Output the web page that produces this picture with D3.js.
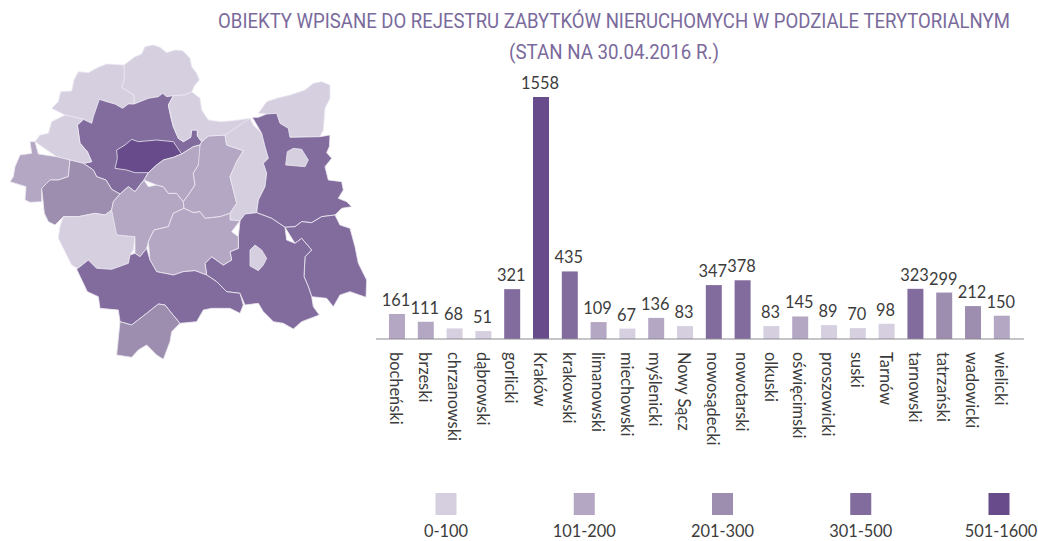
<!DOCTYPE html>
<html>
<head>
<meta charset="utf-8">
<script src="https://cdnjs.cloudflare.com/ajax/libs/d3/7.8.5/d3.min.js"></script>
<style>
body { margin: 0; background: #fff; }
svg { display: block; }
</style>
</head>
<body>
<svg></svg>
<script>
const categories = ["bocheński", "brzeski", "chrzanowski", "dąbrowski", "gorlicki", "Kraków", "krakowski", "limanowski", "miechowski", "myślenicki", "Nowy Sącz", "nowosądecki", "nowotarski", "olkuski", "oświęcimski", "proszowicki", "suski", "Tarnów", "tarnowski", "tatrzański", "wadowicki", "wielicki"];
const values = [161, 111, 68, 51, 321, 1558, 435, 109, 67, 136, 83, 347, 378, 83, 145, 89, 70, 98, 323, 299, 212, 150];
const classLabels = ["0-100", "101-200", "201-300", "301-500", "501-1600"];
const classBreaks = [101, 201, 301, 501];
const classColors = ["#d5cfe0", "#b4a7c4", "#9d8eb0", "#826c9e", "#674b8b"];
const titleLines = ["OBIEKTY WPISANE DO REJESTRU ZABYTKÓW NIERUCHOMYCH W PODZIALE TERYTORIALNYM", "(STAN NA 30.04.2016 R.)"];

// the source map paints brzeski in the lightest class, whatever its value says
const mapClassOverride = { "brzeski": 0 };

// hand traced outlines, no geo file available offline (units: 3x the page pixels)
const outlines = {
    "miechowski": [[372,105],[385,95],[405,80],[425,72],[435,50],[460,45],[480,52],[500,68],[525,60],[548,62],[570,85],[575,110],[590,130],[598,150],[585,165],[575,185],[555,195],[520,197],[500,200],[488,190],[475,200],[445,205],[420,215],[402,222],[402,195],[385,185],[365,172],[372,150],[373,125]],
    "olkuski": [[155,235],[175,215],[182,185],[215,183],[222,150],[235,125],[265,128],[295,112],[320,102],[372,105],[373,125],[372,150],[365,172],[385,185],[402,195],[402,222],[385,222],[368,235],[345,222],[320,215],[298,208],[295,235],[280,260],[275,280],[250,268],[225,262],[195,255],[170,250]],
    "krakowski": [[298,208],[320,215],[345,222],[368,235],[385,222],[402,222],[420,215],[445,205],[475,200],[488,190],[500,200],[520,197],[505,225],[512,260],[520,290],[535,325],[550,335],[572,322],[575,300],[592,300],[592,318],[605,335],[600,345],[580,350],[545,372],[520,382],[490,390],[470,405],[445,428],[432,450],[420,465],[405,485],[385,470],[360,492],[335,478],[318,450],[290,440],[280,420],[250,400],[275,395],[262,365],[240,340],[232,285],[250,268],[275,280],[280,260],[295,235]],
    "Kraków": [[345,415],[352,385],[350,360],[375,345],[395,328],[415,335],[470,330],[520,335],[530,350],[545,372],[520,382],[490,390],[470,405],[445,428],[405,428],[380,420],[350,420]],
    "chrzanowski": [[105,335],[120,315],[145,310],[155,275],[195,255],[225,262],[250,268],[232,285],[240,340],[262,365],[275,395],[250,400],[210,390],[170,380],[115,372]],
    "oświęcimski": [[30,455],[40,440],[45,410],[60,375],[95,370],[90,335],[105,335],[115,372],[170,380],[210,390],[205,440],[175,450],[150,450],[125,475],[125,515],[90,517],[75,510],[78,470],[50,462]],
    "wadowicki": [[125,475],[150,450],[175,450],[205,440],[210,390],[250,400],[280,420],[290,440],[318,450],[335,478],[360,492],[340,515],[335,540],[315,555],[285,550],[235,560],[190,560],[165,585],[145,575],[133,550],[125,515]],
    "suski": [[175,625],[180,590],[190,560],[235,560],[285,550],[315,555],[335,540],[350,575],[350,615],[405,620],[400,660],[390,675],[385,700],[335,718],[290,715],[265,690],[232,715],[215,705],[205,650]],
    "myślenicki": [[335,540],[340,515],[360,492],[385,470],[405,485],[420,465],[432,450],[445,470],[470,465],[490,470],[505,490],[530,490],[550,515],[552,535],[520,550],[505,590],[462,600],[445,635],[440,655],[420,680],[405,670],[405,620],[350,615],[350,575]],
    "wielicki": [[432,450],[445,428],[470,405],[490,390],[520,382],[545,372],[580,350],[600,345],[620,380],[595,405],[580,430],[585,465],[565,495],[550,515],[530,490],[505,490],[490,470],[470,465],[445,470]],
    "bocheński": [[600,345],[605,335],[625,318],[675,315],[680,345],[730,362],[710,395],[690,440],[700,480],[710,520],[690,550],[660,560],[615,565],[600,545],[580,548],[552,535],[550,515],[565,495],[585,465],[580,430],[595,405],[620,380]],
    "proszowicki": [[505,225],[520,197],[555,195],[575,185],[600,205],[605,240],[625,270],[660,275],[700,272],[750,265],[725,305],[675,315],[625,318],[605,335],[592,318],[592,300],[575,300],[572,322],[550,335],[535,325],[520,290],[512,260]],
    "brzeski": [[750,265],[760,285],[785,310],[795,350],[805,385],[790,400],[800,430],[795,470],[775,510],[770,548],[735,552],[720,572],[690,570],[690,550],[710,520],[700,480],[690,440],[710,395],[730,362],[680,345],[675,315],[725,305]],
    "dąbrowski": [[775,250],[800,215],[830,205],[870,195],[915,180],[940,160],[965,155],[990,165],[990,205],[975,235],[970,300],[960,320],[870,322],[865,295],[840,280],[830,250],[800,252],[775,262]],
    "tarnowski": [[757,262],[775,262],[800,252],[830,250],[840,280],[865,295],[870,322],[960,320],[990,315],[988,350],[980,368],[995,385],[975,410],[985,450],[1025,455],[1030,480],[1015,505],[1040,515],[1055,530],[1025,535],[1005,555],[965,560],[935,578],[905,575],[885,590],[855,592],[815,565],[770,548],[775,510],[795,470],[800,430],[790,400],[805,385],[795,350],[785,310],[760,285]],
    "Tarnów": [[857,405],[862,365],[880,355],[905,358],[925,390],[915,410],[875,412]],
    "gorlicki": [[855,592],[885,590],[905,575],[935,578],[965,560],[1005,555],[1020,585],[1050,595],[1065,650],[1075,700],[1100,750],[1098,802],[1050,785],[1020,795],[1000,830],[980,805],[935,800],[925,770],[912,740],[915,680],[935,660],[905,625],[885,640],[860,630]],
    "nowosądecki": [[720,572],[735,552],[770,548],[815,565],[855,592],[860,630],[885,640],[905,625],[935,660],[915,680],[912,740],[925,770],[935,800],[940,830],[958,855],[905,875],[880,897],[850,880],[820,875],[790,845],[775,820],[735,825],[720,790],[680,785],[650,755],[620,735],[615,700],[635,680],[670,705],[695,690],[690,665],[715,655],[715,620],[695,605]],
    "Nowy Sącz": [[750,660],[765,645],[785,660],[800,685],[790,705],[775,722],[750,708],[745,680]],
    "limanowski": [[445,635],[462,600],[505,590],[520,550],[552,535],[580,548],[600,545],[615,565],[660,560],[690,550],[690,570],[720,572],[695,605],[715,620],[715,655],[690,665],[695,690],[670,705],[635,680],[615,700],[620,735],[585,722],[550,725],[520,735],[470,725],[450,690],[440,655]],
    "nowotarski": [[230,718],[265,690],[290,715],[335,718],[385,700],[390,675],[405,670],[420,680],[440,655],[450,690],[470,725],[520,735],[550,725],[585,722],[620,735],[650,755],[680,785],[720,790],[730,825],[720,850],[690,835],[635,835],[610,840],[590,875],[540,880],[515,850],[495,825],[475,822],[440,850],[395,885],[360,875],[355,840],[300,835],[295,800],[262,785],[245,760]],
    "tatrzański": [[360,875],[395,885],[440,850],[475,822],[495,825],[515,850],[540,880],[515,905],[510,935],[490,988],[470,975],[440,945],[415,960],[395,982],[350,975],[360,920]]
};

const width = 1038;
const height = 541;
const font = "Lato, 'Open Sans', sans-serif";
const textColor = "#3c3c3c";
const axisY = 339;

const svg = d3.select("svg").attr("width", width).attr("height", height);

const color = d3.scaleThreshold().domain(classBreaks).range(classColors);

//title, squeezed sideways because no condensed font is installed
svg.selectAll("text.title")
    .data(titleLines)
    .enter()
    .append("text")
    .attr("class", "title")
    .attr("text-anchor", "middle")
    .attr("font-family", "Roboto, sans-serif")
    .attr("font-size", 20.5)
    .attr("fill", "#7a6a9c")
    .text(function (d) { return d; })
    .attr("transform", function (d, i) {
        const target = i === 0 ? 792 : 210;
        const squeeze = target / this.getComputedTextLength();
        return `translate(614, ${28 + i * 31}) scale(${squeeze}, 1)`;
    });

//map
const geo = {
    type: "FeatureCollection",
    features: Object.keys(outlines).map(function (name) {
        return {
            type: "Feature",
            properties: { name: name },
            geometry: { type: "Polygon", coordinates: [outlines[name]] }
        };
    })
};
const projection = d3.geoIdentity().scale(1 / 3).translate([0, 30]);
const path = d3.geoPath(projection);

svg.append("g")
    .selectAll("path")
    .data(geo.features)
    .enter()
    .append("path")
    .attr("d", path)
    .attr("fill", function (d) {
        const name = d.properties.name;
        if (name in mapClassOverride) return classColors[mapClassOverride[name]];
        return color(values[categories.indexOf(name)]);
    })
    .attr("stroke", "#ece9f1")
    .attr("stroke-width", 0.8)
    .attr("stroke-linejoin", "round");

//bars
const x = d3.scaleBand()
    .domain(categories)
    .range([382.6, 1016.2])
    .paddingInner(0.445)
    .paddingOuter(0.222);

const y = d3.scaleLinear()
    .domain([0, 1558])
    .range([axisY, 97]);

svg.append("g")
    .selectAll("rect")
    .data(values)
    .enter()
    .append("rect")
    .attr("x", function (d, i) { return x(categories[i]); })
    .attr("y", function (d) { return y(d); })
    .attr("width", x.bandwidth())
    .attr("height", function (d) { return axisY - y(d); })
    .attr("fill", function (d) { return color(d); });

svg.append("g")
    .selectAll("text")
    .data(values)
    .enter()
    .append("text")
    .attr("x", function (d, i) { return x(categories[i]) + x.bandwidth() / 2 - 1; })
    .attr("y", function (d) { return y(d) - 8; })
    .attr("text-anchor", "middle")
    .attr("font-family", font)
    .attr("font-size", 16.4)
    .attr("fill", textColor)
    .text(function (d) { return d; });

//axis
const axis = svg.append("g")
    .attr("transform", `translate(0, ${axisY})`)
    .call(d3.axisBottom(x).tickSize(0));

axis.select(".domain").remove();
axis.append("line")
    .attr("x1", 376)
    .attr("x2", 1024)
    .attr("stroke", "#8d8a92")
    .attr("stroke-width", 1);

axis.selectAll(".tick text")
    .attr("transform", "rotate(90)")
    .attr("x", 13)
    .attr("y", 1)
    .attr("dy", "0.35em")
    .attr("text-anchor", "start")
    .attr("font-family", font)
    .attr("font-size", 16.4)
    .attr("fill", textColor);

//legend
const legendX = d3.scalePoint()
    .domain(classLabels)
    .range([446, 999]);

const legend = svg.append("g")
    .selectAll("g")
    .data(classLabels)
    .enter()
    .append("g")
    .attr("transform", function (d) { return `translate(${legendX(d)}, 0)`; });

legend.append("rect")
    .attr("x", -10.5)
    .attr("y", 493)
    .attr("width", 21)
    .attr("height", 22)
    .attr("fill", function (d, i) { return classColors[i]; });

legend.append("text")
    .attr("x", function (d, i) { return i === 4 ? 2 : 0; })
    .attr("y", 537)
    .attr("text-anchor", "middle")
    .attr("font-family", font)
    .attr("font-size", 16.4)
    .attr("fill", textColor)
    .text(function (d) { return d; });
</script>
</body>
</html>
